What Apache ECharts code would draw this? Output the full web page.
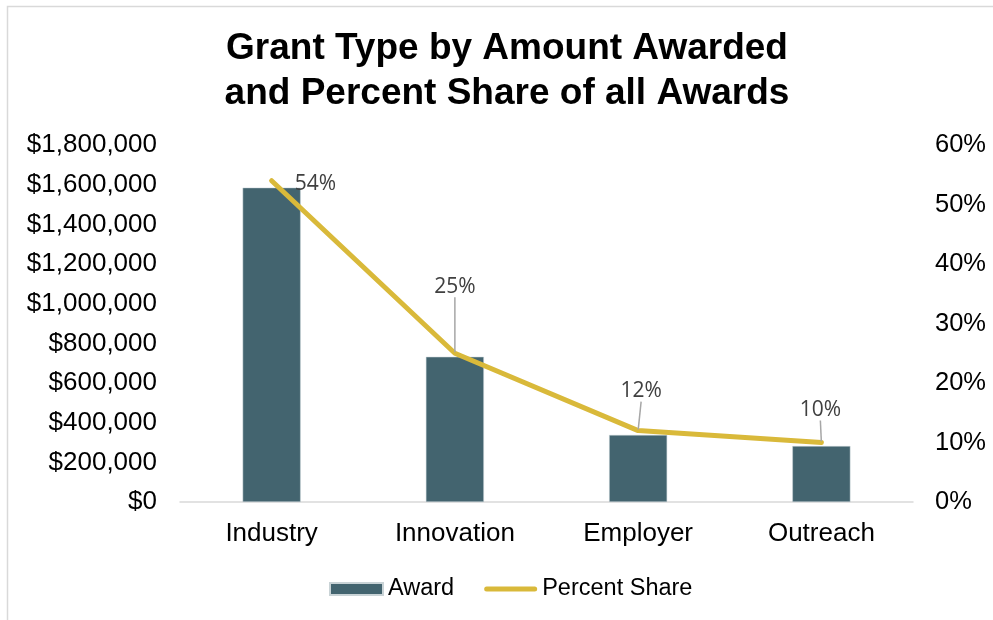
<!DOCTYPE html>
<html>
<head>
<meta charset="utf-8">
<script src="https://cdn.jsdelivr.net/npm/echarts@6/dist/echarts.min.js"></script>
<style>html,body{margin:0;padding:0;background:#fff}#c{width:993px;height:620px}</style>
</head>
<body>
<div id="c"></div>
<script>
var categories = ['Industry', 'Innovation', 'Employer', 'Outreach'];
var awardValues = [1585000, 732000, 338000, 282000];
var percentShare = [54, 25, 12, 10];
var titleLines = ['Grant Type by Amount Awarded', 'and Percent Share of all Awards'];
var seriesNames = ['Award', 'Percent Share'];

var labelMoves = [
  {dx: 0, dy: 0, line: false},
  {dx: 0, dy: -50, line: true},
  {dx: 3, dy: -23, line: true},
  {dx: -1, dy: -16, line: true}
];

var chart = echarts.init(document.getElementById('c'), null, {renderer: 'canvas'});
var AX = 'Liberation Sans, Arial, sans-serif';

chart.setOption({
  backgroundColor: '#ffffff',
  animation: false,
  graphic: [
    {type: 'rect', shape: {x: 7.5, y: 6.5, width: 1000, height: 700}, style: {fill: 'none', stroke: '#D9D9D9', lineWidth: 1.5}, silent: true},
    {type: 'text', x: 507, y: 26, style: {text: titleLines.join('\n'), textAlign: 'center', font: 'bold 37px Liberation Sans, Arial, sans-serif', lineHeight: 45, fill: '#000000'}}
  ],
  grid: {left: 180, right: 80, top: 145, bottom: 118, containLabel: false},
  legend: {
    left: 329, top: 577, padding: 0, itemWidth: 53, itemHeight: 12, itemGap: 30,
    textStyle: {fontFamily: AX, fontSize: 23.5, color: '#000000'},
    data: [
      {name: seriesNames[0], icon: 'rect'},
      {name: seriesNames[1], icon: 'path://M0,0 M0,12 M2.5,3.5 L50.5,3.5 A2.5,2.5 0 0 1 50.5,8.5 L2.5,8.5 A2.5,2.5 0 0 1 2.5,3.5 Z'}
    ]
  },
  xAxis: {
    type: 'category', data: categories,
    axisTick: {show: false},
    axisLine: {lineStyle: {color: '#D9D9D9', width: 1.5}},
    axisLabel: {fontFamily: AX, fontSize: 26, color: '#000000', margin: 19}
  },
  yAxis: [
    {
      type: 'value', min: 0, max: 1800000, interval: 200000,
      splitLine: {show: false}, axisLine: {show: false}, axisTick: {show: false},
      axisLabel: {fontFamily: AX, fontSize: 26, color: '#000000', margin: 23,
        formatter: function (v) { return '$' + v.toLocaleString('en-US'); }}
    },
    {
      type: 'value', min: 0, max: 60, interval: 10,
      splitLine: {show: false}, axisLine: {show: false}, axisTick: {show: false},
      axisLabel: {fontFamily: AX, fontSize: 25.5, color: '#000000', margin: 22,
        formatter: function (v) { return v + '%'; }}
    }
  ],
  series: [
    {
      name: seriesNames[0], type: 'bar', data: awardValues, barWidth: 58,
      itemStyle: {color: '#43646F', borderColor: '#C9D3D6', borderWidth: 0.5}
    },
    {
      name: seriesNames[1], type: 'line', yAxisIndex: 1,
      data: percentShare.map(function (v, i) {
        return {value: v, labelLine: {show: labelMoves[i].line}};
      }),
      symbol: 'circle', symbolSize: 2, showSymbol: true,
      lineStyle: {color: '#D9B93A', width: 5, cap: 'round', join: 'round'},
      itemStyle: {color: '#D9B93A'},
      label: {
        show: true, position: 'top', distance: 5,
        formatter: function (p) { return p.value + '%'; },
        fontFamily: 'Open Sans, Noto Sans, sans-serif', fontSize: 21, color: '#404040'
      },
      labelLine: {show: true, lineStyle: {color: '#A6A6A6', width: 1.5}, length2: 0},
      labelLayout: function (params) {
        var m = labelMoves[params.dataIndex];
        if (params.dataIndex === 0) {
          return {x: params.rect.x + params.rect.width / 2 + 23, y: params.rect.y + params.rect.height / 2 - 7, align: 'left'};
        }
        return {dx: m.dx, dy: m.dy};
      },
      z: 3
    }
  ]
});
</script>
</body>
</html>
